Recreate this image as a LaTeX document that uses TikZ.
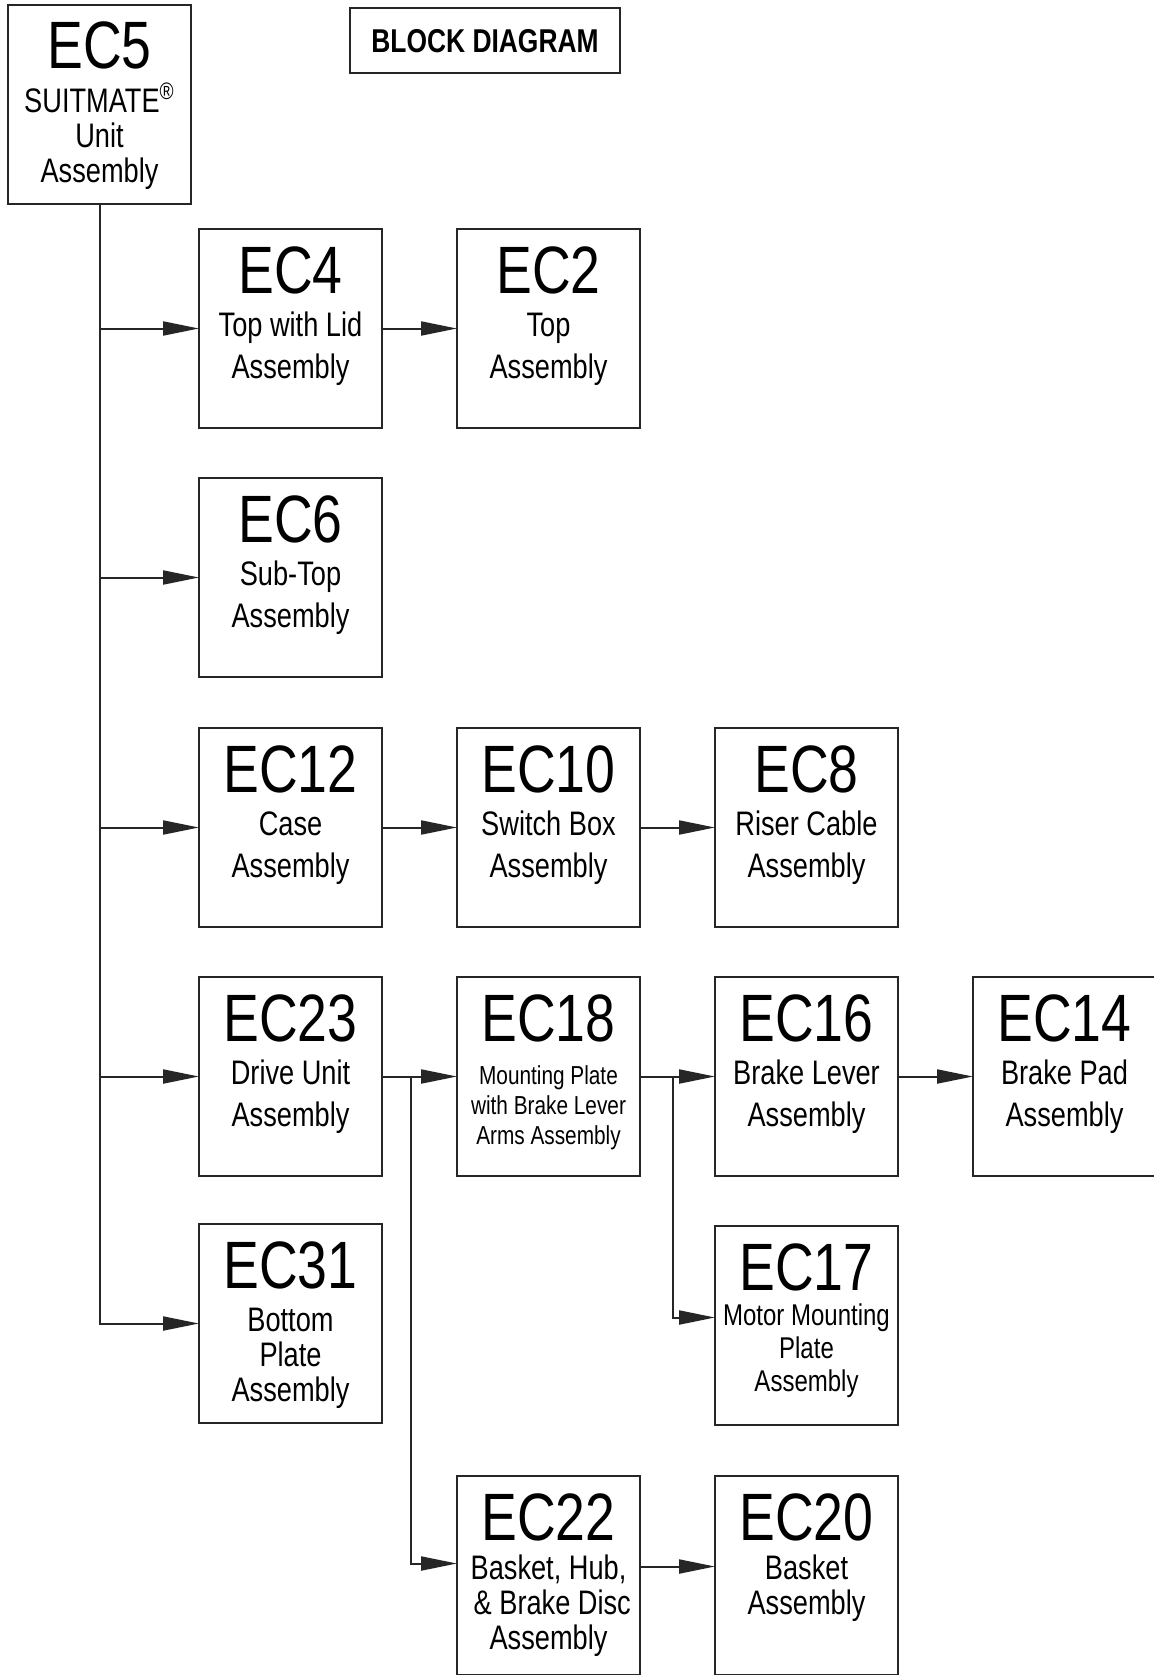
\documentclass[tikz,border=0pt]{standalone}
\usepackage{fontspec}
\setmainfont[FakeStretch=0.8]{Liberation Sans}
\usetikzlibrary{calc,arrows.meta}

\tikzset{
  ec box/.style={
    draw=black!85,
    line width=1pt,
    minimum width=91.5pt,
    minimum height=99.5pt,
    inner sep=0pt,
    outer sep=0pt
  },
  ec number/.style={anchor=base, inner sep=0pt, font=\fontsize{33.5}{40}\selectfont},
  % the base anchor sits on the last line, so shift down by the extra lines
  ec text/.style={anchor=base, inner sep=0pt, align=center,
    font=\fontsize{17}{21}\selectfont, yshift=-21pt},
  ec pair/.style={anchor=base, inner sep=0pt, align=center,
    font=\fontsize{17}{17.5}\selectfont, yshift=-15.5pt},
  ec tight/.style={anchor=base, inner sep=0pt, align=center,
    font=\fontsize{17}{17.5}\selectfont, yshift=-35pt},
  ec narrow/.style={anchor=base, inner sep=0pt, align=center,
    font=\fontsize{15}{16.5}\selectfont, yshift=-29pt},
  ec small/.style={anchor=base, inner sep=0pt, align=center,
    font=\fontsize{13}{15}\selectfont, yshift=-30pt},
  link/.style={
    draw=black!85,
    line width=1pt,
    -{Triangle[length=18pt,width=7pt]}
  }
}

\begin{document}
\begin{tikzpicture}[x=0.5pt,y=-0.5pt]
\useasboundingbox (0,0) rectangle (1153,1675);

% Each block is specified as:
% \ecblock{name}{left}{top}{number}{text}{text style}
\newcommand{\ecblock}[6]{%
  \node[ec box] (#1) at (#2+91.5,#3+99.5) {};
  \node[ec number] (#1num) at ($(#1.north)+(0,64)$) {EC#4};
  \node[#6] (#1txt) at ($(#1.north)+(0,107)$) {#5};
}

% Title.
\node[draw=black!85, line width=1pt, minimum width=135pt, minimum height=32.5pt,
  inner sep=0pt, font=\fontsize{16.5}{20}\selectfont\bfseries] (title) at (485,41) {BLOCK DIAGRAM};

% Blocks.
\ecblock{ec5}{8}{5}{5}{SUITMATE\textsuperscript{®}\\Unit\\Assembly}{ec tight}
\ecblock{ec4}{199}{229}{4}{Top with Lid\\Assembly}{ec text}
\ecblock{ec2}{457}{229}{2}{Top\\Assembly}{ec text}
\ecblock{ec6}{199}{478}{6}{Sub-Top\\Assembly}{ec text}
\ecblock{ec12}{199}{728}{12}{Case\\Assembly}{ec text}
\ecblock{ec10}{457}{728}{10}{Switch Box\\Assembly}{ec text}
\ecblock{ec8}{715}{728}{8}{Riser Cable\\Assembly}{ec text}
\ecblock{ec23}{199}{977}{23}{Drive Unit\\Assembly}{ec text}
\ecblock{ec18}{457}{977}{18}{Mounting Plate\\with Brake Lever\\Arms Assembly}{ec small}
\ecblock{ec16}{715}{977}{16}{Brake Lever\\Assembly}{ec text}
\ecblock{ec14}{973}{977}{14}{Brake Pad\\Assembly}{ec text}
\ecblock{ec31}{199}{1224}{31}{Bottom\\Plate\\Assembly}{ec tight}
\ecblock{ec17}{715}{1226}{17}{Motor Mounting\\Plate\\Assembly}{ec narrow}
\ecblock{ec22}{457}{1476}{22}{Basket, Hub,\\\ \& Brake Disc\\Assembly}{ec tight, yshift=2pt}
\ecblock{ec20}{715}{1476}{20}{Basket\\Assembly}{ec pair}

% Main trunk from EC5.
\draw[link] (ec5.south) |- (ec31.west);
\foreach \b in {ec4,ec6,ec12,ec23}
  \draw[link] (ec5.south |- \b.west) -- (\b.west);

% Chains.
\draw[link] (ec4) -- (ec2);
\draw[link] (ec12) -- (ec10);
\draw[link] (ec10) -- (ec8);
\draw[link] (ec23) -- (ec18);
\draw[link] (ec18) -- (ec16);
\draw[link] (ec16) -- (ec14);
\draw[link] ($(ec22.east)+(0,-9)$) -- ($(ec20.west)+(0,-9)$);

% Branches.
\coordinate (fork23) at ($(ec23.east)!0.39!(ec18.west)$);
\draw[link] (fork23) |- ($(ec22.west)+(0,-12)$);
\coordinate (fork18) at ($(ec18.east)!0.44!(ec16.west)$);
\draw[link] (fork18) |- ($(ec17.west)+(0,-8)$);

\end{tikzpicture}
\end{document}
